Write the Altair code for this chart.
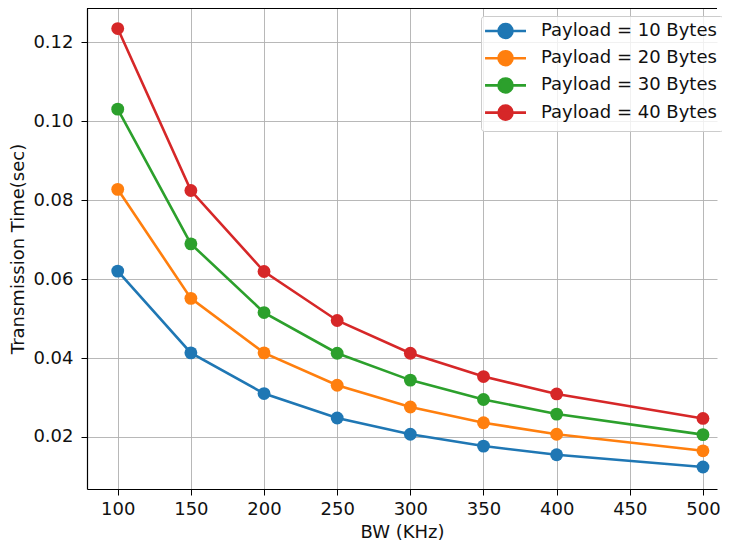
import altair as alt
import pandas as pd

bw = [100, 150, 200, 250, 300, 350, 400, 500]
series_names = ["Payload = 10 Bytes", "Payload = 20 Bytes", "Payload = 30 Bytes", "Payload = 40 Bytes"]
p10 = [0.0620, 0.0413, 0.0310, 0.0248, 0.0207, 0.0177, 0.0155, 0.0124]
p20 = [0.0827, 0.0551, 0.0413, 0.0331, 0.0276, 0.0236, 0.0207, 0.0165]
p30 = [0.1030, 0.0689, 0.0515, 0.0412, 0.0344, 0.0295, 0.0258, 0.0206]
p40 = [0.1234, 0.0824, 0.0619, 0.0495, 0.0412, 0.0353, 0.0309, 0.0247]
colors = ["#1f77b4", "#ff7f0e", "#2ca02c", "#d62728"]
x_ticks = [100, 150, 200, 250, 300, 350, 400, 450, 500]
y_ticks = [0.02, 0.04, 0.06, 0.08, 0.10, 0.12]
x_domain = [79.0, 509.6]
y_domain = [0.006835, 0.12861]

rows = []
for name, vals in zip(series_names, [p10, p20, p30, p40]):
    for b, v in zip(bw, vals):
        rows.append({"BW": b, "T": v, "Series": name})
df = pd.DataFrame(rows)

FONT = "DejaVu Sans"
FS = 18

# legend symbol: a line with a filled circle, shifted right within the entry
symbol_path = ("M-1.46,0 L4.0,0 "
               "M0.34,0 A0.93,0.93 0 1,1 2.2,0 A0.93,0.93 0 1,1 0.34,0 Z")

xscale = alt.Scale(domain=x_domain, nice=False, zero=False)
yscale = alt.Scale(domain=y_domain, nice=False, zero=False)

x = alt.X("BW:Q", title="BW (KHz)", scale=xscale,
          axis=alt.Axis(values=x_ticks, grid=True, labelPadding=5, titlePadding=5))
y = alt.Y("T:Q", title="Transmission Time(sec)", scale=yscale,
          axis=alt.Axis(values=y_ticks, format=".2f", grid=True, labelPadding=8, titlePadding=5))
color = alt.Color("Series:N", scale=alt.Scale(domain=series_names, range=colors),
                  legend=alt.Legend(title=None, orient="none", legendX=394, legendY=8,
                                    symbolType=symbol_path,
                                    symbolSize=225, symbolStrokeWidth=2.6,
                                    labelFontSize=FS, labelFont=FONT, labelColor="#111111",
                                    labelLimit=400,
                                    rowPadding=1.2, padding=6, labelOffset=36,
                                    fillColor="rgba(255,255,255,0.8)", strokeColor="#cccccc",
                                    cornerRadius=3))

lines = alt.Chart(df).mark_line(strokeWidth=2.6).encode(x=x, y=y, color=color)
points = alt.Chart(df).mark_point(filled=True, size=165, opacity=1).encode(x=x, y=y, color=color)
# top spine of the frame (right spine lies beyond the picture edge in the reference)
top_spine = alt.Chart(df).mark_rule(color="black", strokeWidth=1.2).encode(
    y=alt.datum(y_domain[1], scale=yscale)
)

chart = alt.layer(lines, points, top_spine).properties(
    width=630, height=481,
    padding={"left": 79, "top": 0, "right": 5, "bottom": 56},
    autosize=alt.AutoSizeParams(type="none"),
).configure_view(stroke=None).configure_axis(
    labelFont=FONT, titleFont=FONT, labelFontSize=FS, titleFontSize=FS,
    labelColor="#111111", titleColor="#111111", titleFontWeight="normal",
    gridColor="#b0b0b0", gridWidth=0.9, domain=True, domainColor="black", domainWidth=1.2,
    tickColor="black", tickSize=6, tickWidth=1,
)

chart.save("out.html", embed_options={"renderer": "svg", "actions": False})
